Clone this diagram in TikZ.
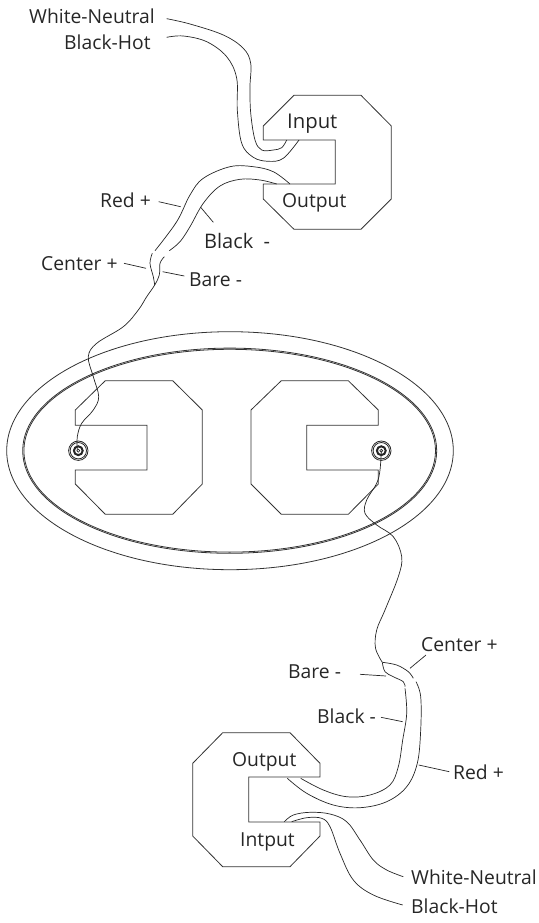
\documentclass[tikz,border=0pt]{standalone}
\usepackage{fontspec}
\setmainfont{Open Sans}
\tikzset{
  outline/.style={draw=black!80,line width=0.8pt,line join=miter},
  wire/.style={draw=black!85,line width=0.7pt},
  leader/.style={draw=black!85,line width=0.7pt},
  lab/.style={font=\fontsize{19.3}{22}\selectfont,text=black!85,inner sep=0pt,anchor=west},
  ringa/.style={draw=black!85,line width=0.8pt}
}
\begin{document}
\begin{tikzpicture}[x=1pt,y=-1pt]
\useasboundingbox (0,0) rectangle (538,923);
% plate
\draw[outline] (230,450.7) ellipse [x radius=223.3,y radius=119];
\draw[outline] (229.7,450.7) ellipse [x radius=207,y radius=102.6];
\draw[outline] (229.7,450.7) ellipse [x radius=205.8,y radius=101.4];
% octagons
\draw[outline] (263.3,126)--(294,95.3)--(361,95.3)--(391.3,126)--(391.3,199)--(361,229.3)--(294,229.3)--(263.3,199)--(263.3,184)--(335.3,184)--(335.3,140)--(263.3,140)--cycle;
\draw[outline] (75.3,410)--(105.3,380.7)--(172.7,380.7)--(202.3,410)--(202.3,484)--(172.7,514.3)--(105.3,514.3)--(75.3,484)--(75.3,470)--(147,470)--(147,425.3)--(75.3,425.3)--cycle;
\draw[outline] (378.3,410)--(348.3,380.7)--(281.3,380.7)--(251,410)--(251,484)--(281.3,514.3)--(348.3,514.3)--(378.3,484)--(378.3,470)--(306.7,470)--(306.7,425.3)--(378.3,425.3)--cycle;
\draw[outline] (320,763.3)--(290,732.7)--(222.7,732.7)--(192.7,763.3)--(192.7,836)--(222.7,866.7)--(290,866.7)--(320,836)--(320,822)--(248.7,822)--(248.7,777)--(320,777)--cycle;
% connectors
\foreach \n/\x in {cl/78.3,cr/381.3}{
  \coordinate (\n) at (\x,450.7);
  \draw[ringa] (\n) circle (9.7);
  \draw[ringa] (\n) circle (8.2);
  \draw[ringa,line width=2pt] (\n) circle (4.4);
  \draw[ringa,line width=0.6pt] (\n) circle (1.5);
}
% top wires
\draw[wire] plot[smooth,tension=0.6] coordinates {(166.7,18.7)(190,24)(223.3,35)(243.3,48.3)(250.7,63.3)(250,86.7)(250.7,113)(255,140)(261.7,150)(273.3,150)(281.7,147.7)(286.7,140)};
\draw[wire] plot[smooth,tension=0.6] coordinates {(166.7,37.3)(183.3,36)(206.7,41.7)(226.7,56.7)(236.7,78.3)(237.3,110)(241.7,143.3)(253.3,157.3)(268.3,161.3)(283.3,158.3)(299,140)};
\draw[wire] plot[smooth,tension=0.6] coordinates {(290,184)(273.3,171.7)(253.3,166.7)(230,166.7)(203.3,178.3)(190,195)(176.7,221.7)(155,250.7)};
\draw[wire] plot[smooth,tension=0.6] coordinates {(276.7,184)(260,180)(240,179.3)(220,186)(203.3,203.3)(190,226.7)(180,241.7)(169.3,250.7)};
\draw[wire] plot[smooth,tension=0.6] coordinates {(152.3,253.3)(150,263.3)(153.3,276.7)(154.7,285)};
\draw[wire] plot[smooth,tension=0.6] coordinates {(164.3,256.7)(160,263.3)(159.3,275)(154.7,285)(146.7,296.7)(138.3,310)(123.3,326.7)(96.7,343.3)(88.3,356.7)(93.3,376.7)(98.7,396.7)(93.3,410)(81.7,423.3)(77.3,436.7)(77.3,450)};
% bottom wires
\draw[wire] plot[smooth,tension=0.6] coordinates {(381.3,450.7)(380,470)(376.7,483.3)(366.7,500)(365,513.3)(376.7,525)(393.3,536.7)(401.7,556.7)(398.3,576.7)(385,610)(376.7,630)(375.5,648)(382.3,662.3)};
\draw[wire] plot[smooth,tension=0.6] coordinates {(382.3,662.3)(396.7,665)(408.3,671.7)(413.3,678.3)};
\draw[wire] plot[smooth,tension=0.6] coordinates {(382.3,662.3)(385,671.7)(393.3,676.7)(403.3,681.7)(405,686.7)};
\draw[wire] plot[smooth,tension=0.6] coordinates {(416,681.7)(420.7,696.7)(420.7,730)(417.3,763.3)(406.7,786.7)(386.7,801.7)(360,807.7)(333.3,805)(306.7,793.3)(287.3,778.3)};
\draw[wire] plot[smooth,tension=0.6] coordinates {(405,688.3)(406.7,713.3)(402.7,740)(398.3,766.7)(390,785)(370,795)(346.7,796.7)(323.3,790)(300.7,778.3)};
\draw[wire] plot[smooth,tension=0.6] coordinates {(284.3,821.7)(293.3,815)(310,812.3)(330,814)(346.7,821.7)(360,840)(373.3,860)(386.7,870)(403.3,876.7)};
\draw[wire] plot[smooth,tension=0.6] coordinates {(291.7,821.7)(306.7,817.7)(321.7,818.3)(330,826.7)(340,853.3)(353.3,880)(373.3,895)(402.7,905)};
% labels
\node[lab] (wn1) at (29,16.5) {White-Neutral};
\node[lab] (bh1) at (64,42) {Black-Hot};
\node[lab] (in1) at (287,123.5) {\fontsize{20.3}{24}\selectfont Input};
\node[lab] (out1) at (282,203) {Output};
\node[lab] (red1) at (100,200) {Red +};
\node[lab] (blk1) at (204,240.5) {\fontsize{20}{24}\selectfont Black\ \ -};
\node[lab] (cen1) at (41,264) {Center +};
\node[lab] (bar1) at (189,280) {Bare -};
\node[lab] (cen2) at (421,645) {Center +};
\node[lab] (bar2) at (288,672) {Bare -};
\node[lab] (blk2) at (317,716) {Black -};
\node[lab] (red2) at (453,772) {Red +};
\node[lab] (out2) at (232,761.5) {Output};
\node[lab] (in2) at (240,841.5) {Intput};
\node[lab] (wn2) at (411,877) {White-Neutral};
\node[lab] (bh2) at (411,906) {Black-Hot};
% leaders
\draw[leader] (158.7,201.7)--(180.7,206.7);
\draw[leader] (200.7,207.3)--(213.3,222.3);
\draw[leader] (124,263.3)--(146,268.3);
\draw[leader] (162.7,271.7)--(184.3,276);
\draw[leader] (426,655)--(410,668.3);
\draw[leader] (360,674.3)--(386,676);
\draw[leader] (381,717.3)--(402.7,721.7);
\draw[leader] (418.7,765)--(449.3,771.7);
\end{tikzpicture}
\end{document}
